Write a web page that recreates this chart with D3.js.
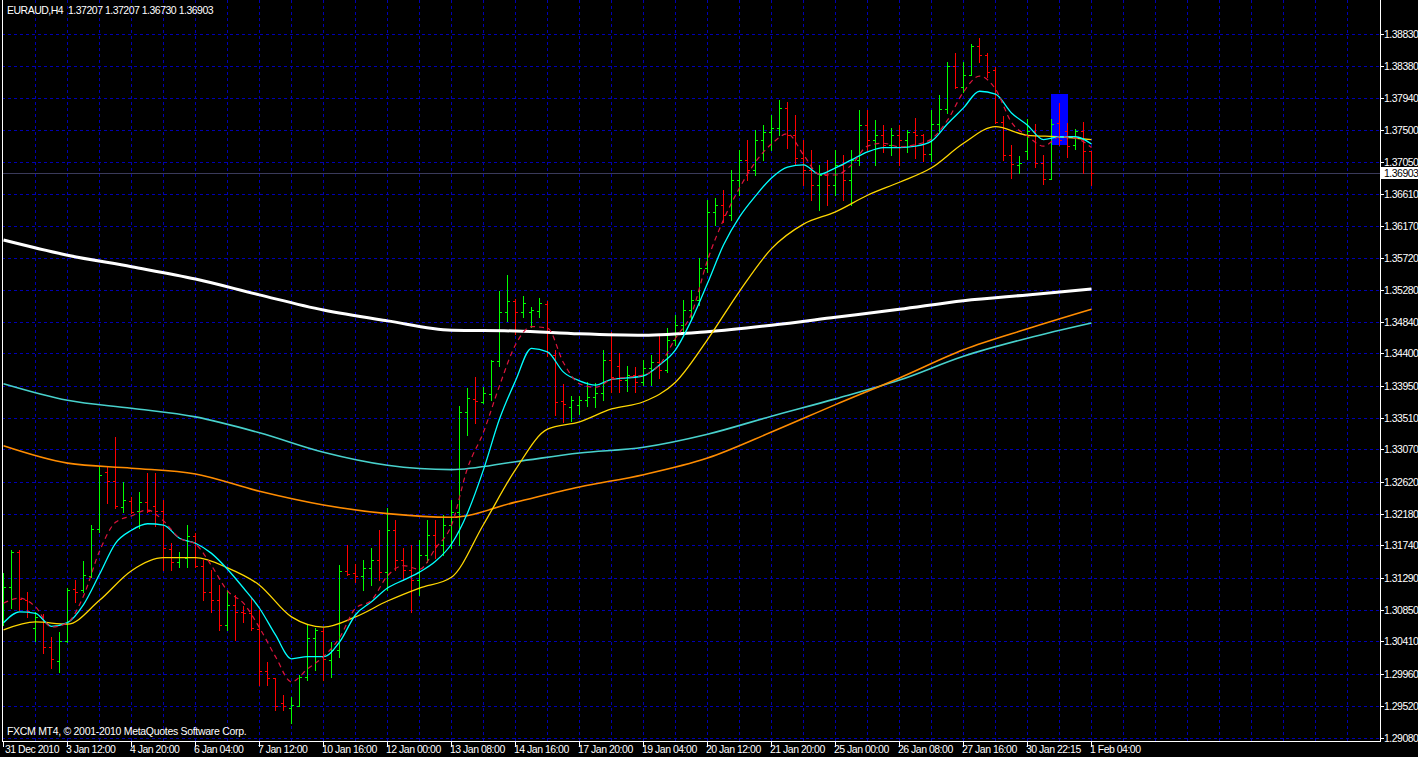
<!DOCTYPE html>
<html><head><meta charset="utf-8">
<script src="https://cdn.jsdelivr.net/npm/d3@7"></script>
<style>
html,body{margin:0;padding:0;background:#000;overflow:hidden}
svg{display:block}
text{font-family:"Liberation Sans",Arial,sans-serif;font-size:10.5px;fill:#fff;letter-spacing:-0.5px}
text.copy{letter-spacing:-0.3px}
</style></head><body>
<svg id="chart" width="1418" height="757"></svg>
<script>
// ---------- data ----------
const symbol = "EURAUD,H4";
const headerQuote = ["1.37207", "1.37207", "1.36730", "1.36903"];
const copyright = "FXCM MT4, \u00A9 2001-2010 MetaQuotes Software Corp.";
const bidPrice = 1.36903;
const priceTicks = ["1.38830","1.38380","1.37940","1.37500","1.37050","1.36610","1.36170","1.35720",
  "1.35280","1.34840","1.34400","1.33950","1.33510","1.33070","1.32620","1.32180","1.31740",
  "1.31290","1.30850","1.30410","1.29960","1.29520","1.29080"];
const timeLabels = ["31 Dec 2010","3 Jan 12:00","4 Jan 20:00","6 Jan 04:00","7 Jan 12:00","10 Jan 16:00",
  "12 Jan 00:00","13 Jan 08:00","14 Jan 16:00","17 Jan 20:00","19 Jan 04:00","20 Jan 12:00",
  "21 Jan 20:00","25 Jan 00:00","26 Jan 08:00","27 Jan 16:00","30 Jan 22:15","1 Feb 04:00"];
const barsPerLabel = 8;

const open = [1.3085,1.3116,1.3165,1.3098,1.3060,1.3074,1.3033,1.3014,1.3042,1.3114,1.3112,1.3132,1.3197,1.3276,1.3263,1.3227,1.3236,1.3222,1.3234,1.3229,
1.3222,1.3169,1.3151,1.3157,1.3187,1.3146,1.3110,1.3098,1.3064,1.3092,1.3082,1.3080,1.3058,1.3000,1.2990,1.2956,1.2949,1.2952,1.2992,1.3046,
1.3056,1.3015,1.3029,1.3139,1.3136,1.3132,1.3143,1.3154,1.3137,1.3195,1.3154,1.3140,1.3126,1.3161,1.3189,1.3175,1.3202,1.3220,1.3359,1.3377,
1.3373,1.3384,1.3429,1.3497,1.3513,1.3497,1.3497,1.3499,1.3508,1.3438,1.3374,1.3366,1.3369,1.3375,1.3380,1.3385,1.3431,1.3423,1.3403,1.3410,
1.3400,1.3420,1.3428,1.3417,1.3459,1.3479,1.3500,1.3514,1.3558,1.3636,1.3645,1.3632,1.3680,1.3708,1.3694,1.3736,1.3747,1.3752,1.3780,1.3742,
1.3711,1.3694,1.3673,1.3687,1.3673,1.3701,1.3680,1.3708,1.3756,1.3736,1.3742,1.3729,1.3742,1.3736,1.3747,1.3742,1.3716,1.3758,1.3778,1.3838,
1.3809,1.3826,1.3866,1.3853,1.3832,1.3760,1.3715,1.3701,1.3720,1.3748,1.3704,1.3682,1.3759,1.3748,1.3729,1.3748,1.37207];
const high = [1.3136,1.3168,1.3168,1.3110,1.3082,1.3079,1.3047,1.3054,1.3115,1.3126,1.3152,1.3202,1.3283,1.3283,1.3324,1.3262,1.3241,1.3248,1.3274,1.3274,
1.3237,1.3177,1.3165,1.3202,1.3191,1.3154,1.3140,1.3119,1.3112,1.3105,1.3090,1.3103,1.3085,1.3013,1.2990,1.2967,1.2964,1.2995,1.3064,1.3060,
1.3060,1.3040,1.3147,1.3175,1.3148,1.3154,1.3170,1.3195,1.3226,1.3209,1.3170,1.3175,1.3182,1.3209,1.3209,1.3216,1.3237,1.3367,1.3392,1.3407,
1.3393,1.3431,1.3526,1.3549,1.3515,1.3520,1.3504,1.3517,1.3513,1.3445,1.3398,1.3381,1.3381,1.3400,1.3399,1.3445,1.3470,1.3440,1.3423,1.3421,
1.3431,1.3438,1.3465,1.3475,1.3493,1.3514,1.3528,1.3572,1.3652,1.3655,1.3666,1.3694,1.3722,1.3736,1.3749,1.3756,1.3770,1.3791,1.3788,1.3770,
1.3736,1.3722,1.3701,1.3708,1.3722,1.3715,1.3722,1.3777,1.3777,1.3763,1.3756,1.3752,1.3756,1.3749,1.3766,1.3744,1.3777,1.3798,1.3843,1.3856,
1.3843,1.3868,1.3877,1.3856,1.3837,1.3769,1.3729,1.3713,1.3765,1.3758,1.3715,1.3765,1.3787,1.3759,1.3751,1.3760,1.37207];
const low = [1.3064,1.3087,1.3085,1.3075,1.3042,1.3025,1.3004,1.2999,1.3040,1.3096,1.3110,1.3130,1.3193,1.3233,1.3226,1.3220,1.3219,1.3198,1.3220,1.3201,
1.3140,1.3140,1.3144,1.3144,1.3144,1.3098,1.3082,1.3057,1.3057,1.3043,1.3068,1.3057,1.2981,1.2981,1.2946,1.2946,1.2928,1.2952,1.2988,1.3002,
1.2988,1.2992,1.3020,1.3133,1.3123,1.3112,1.3119,1.3126,1.3112,1.3140,1.3126,1.3082,1.3105,1.3151,1.3157,1.3161,1.3170,1.3175,1.3327,1.3344,
1.3371,1.3375,1.3423,1.3485,1.3467,1.3490,1.3477,1.3490,1.3436,1.3355,1.3345,1.3346,1.3356,1.3367,1.3366,1.3375,1.3387,1.3387,1.3388,1.3387,
1.3396,1.3396,1.3406,1.3414,1.3452,1.3465,1.3486,1.3507,1.3553,1.3618,1.3622,1.3625,1.3659,1.3680,1.3687,1.3708,1.3722,1.3742,1.3724,1.3701,
1.3673,1.3652,1.3639,1.3645,1.3659,1.3652,1.3645,1.3701,1.3722,1.3701,1.3719,1.3715,1.3701,1.3719,1.3711,1.3706,1.3706,1.3748,1.3773,1.3808,
1.3802,1.3826,1.3843,1.3823,1.3759,1.3708,1.3683,1.3690,1.3709,1.3698,1.3675,1.3682,1.3729,1.3712,1.3723,1.3690,1.36730];
const close = [1.3116,1.3165,1.3100,1.3083,1.3075,1.3033,1.3017,1.3042,1.3112,1.3110,1.3133,1.3197,1.3272,1.3263,1.3229,1.3237,1.3220,1.3234,1.3222,1.3222,
1.3170,1.3151,1.3158,1.3187,1.3146,1.3110,1.3098,1.3064,1.3092,1.3082,1.3080,1.3060,1.3000,1.2990,1.2952,1.2952,1.2953,1.2992,1.3046,1.3057,
1.3017,1.3029,1.3139,1.3134,1.3132,1.3143,1.3154,1.3137,1.3195,1.3154,1.3140,1.3126,1.3161,1.3189,1.3175,1.3202,1.3220,1.3359,1.3378,1.3374,
1.3385,1.3429,1.3497,1.3513,1.3497,1.3510,1.3500,1.3510,1.3442,1.3373,1.3370,1.3375,1.3375,1.3380,1.3385,1.3431,1.3407,1.3403,1.3410,1.3400,
1.3420,1.3428,1.3417,1.3459,1.3479,1.3500,1.3514,1.3558,1.3636,1.3645,1.3632,1.3680,1.3708,1.3694,1.3736,1.3747,1.3752,1.3780,1.3742,1.3711,
1.3694,1.3673,1.3687,1.3673,1.3701,1.3680,1.3708,1.3756,1.3736,1.3742,1.3729,1.3742,1.3736,1.3747,1.3742,1.3716,1.3758,1.3778,1.3838,1.3809,
1.3826,1.3866,1.3853,1.3830,1.3760,1.3715,1.3702,1.3704,1.3748,1.3704,1.3682,1.3758,1.3736,1.3727,1.3748,1.3720,1.36903];

const fastStep = 2;
const maCyanFast = [1.3067,1.3082,1.3080,1.3062,1.3067,1.3092,1.3134,1.3177,1.3195,1.3204,1.3202,1.3184,1.3177,1.3163,1.3141,1.3115,1.3087,1.3050,1.3017,1.3020,
1.3020,1.3040,1.3078,1.3096,1.3115,1.3126,1.3137,1.3152,1.3176,1.3219,1.3279,1.3349,1.3402,1.3447,1.3442,1.3414,1.3402,1.3396,1.3404,1.3406,
1.3409,1.3424,1.3445,1.3486,1.3537,1.3590,1.3629,1.3658,1.3683,1.3698,1.3701,1.3688,1.3697,1.3708,1.3719,1.3725,1.3725,1.3727,1.3734,1.3758,
1.3780,1.3803,1.3799,1.3773,1.3756,1.3736,1.3740,1.3740,1.3730];
const maRedDash = [1.3094,1.3101,1.3089,1.3061,1.3067,1.3104,1.3166,1.3206,1.3215,1.3223,1.3208,1.3184,1.3176,1.3146,1.3111,1.3094,1.3060,1.3020,1.2985,1.3003,
1.3020,1.3046,1.3087,1.3098,1.3132,1.3146,1.3141,1.3170,1.3202,1.3281,1.3331,1.3395,1.3452,1.3477,1.3475,1.3427,1.3398,1.3393,1.3404,1.3407,
1.3410,1.3424,1.3461,1.3495,1.3569,1.3625,1.3669,1.3705,1.3730,1.3744,1.3715,1.3688,1.3687,1.3701,1.3727,1.3731,1.3726,1.3729,1.3737,1.3763,
1.3802,1.3824,1.3806,1.3760,1.3741,1.3727,1.3740,1.3738,1.3725];
const midStep = 4;
const maYellow = [1.3057,1.3068,1.3065,1.3098,1.3139,1.3157,1.3157,1.3143,1.3119,1.3075,1.3061,1.3075,1.3097,1.3115,1.3130,1.3203,1.3279,1.3335,1.3345,1.3363,
1.3373,1.3400,1.3459,1.3526,1.3585,1.3619,1.3636,1.3659,1.3677,1.3697,1.3731,1.3754,1.3742,1.3740,1.3736];
const slowStep = 8;
const maWhite = [1.3597,1.3576,1.3560,1.3543,1.3521,1.3500,1.3485,1.3472,1.3471,1.3467,1.3465,1.3470,1.3479,1.3490,1.3501,1.3513,1.3521,1.3529];
const maCyanSlow = [1.3398,1.3375,1.3364,1.3352,1.3330,1.3303,1.3285,1.3279,1.3290,1.3302,1.3310,1.3328,1.3353,1.3377,1.3403,1.3436,1.3461,1.3482];
const maOrange = [1.3312,1.3288,1.3281,1.3273,1.3249,1.3230,1.3218,1.3213,1.3234,1.3255,1.3272,1.3295,1.3331,1.3369,1.3406,1.3445,1.3474,1.3501];

// rectangle object on the chart (bar indices and price range)
const boxBars = [131, 133];
const boxPrices = [1.3799, 1.3729];

// ---------- drawing ----------
const svg = d3.select("#chart");
const axisX = 1380, axisY = 741;
const nBars = close.length;
const x = d3.scaleLinear().domain([0, nBars - 1]).range([3, 3 + 8 * (nBars - 1)]);
const tickNums = priceTicks.map(Number);
const y = d3.scaleLinear().domain([d3.min(tickNums), d3.max(tickNums)]).range([737.5, 33.5]);
const px = v => Math.round(x(v)) + 0.5;
const py = v => Math.round(y(v)) + 0.5;

svg.append("rect").attr("width", 1418).attr("height", 757).attr("fill", "#000");
svg.append("defs").append("clipPath").attr("id", "plot")
  .append("rect").attr("x", 2).attr("y", 0).attr("width", axisX - 2).attr("height", axisY);

const plot = svg.append("g").attr("clip-path", "url(#plot)");
const gridColor = "#0000b4";

// horizontal grid
plot.append("g").selectAll("line").data(tickNums).join("line")
  .attr("x1", 2).attr("x2", axisX).attr("y1", d => py(d)).attr("y2", d => py(d))
  .attr("stroke", gridColor).attr("stroke-dasharray", "3,3").attr("shape-rendering", "crispEdges");
// vertical grid (every 4 bars)
const vIdx = d3.range(4, 176, 4).filter(i => x(i) < axisX - 1);
plot.append("g").selectAll("line").data(vIdx).join("line")
  .attr("x1", d => px(d)).attr("x2", d => px(d)).attr("y1", 0).attr("y2", axisY)
  .attr("stroke", gridColor).attr("stroke-dasharray", "3,3").attr("shape-rendering", "crispEdges");

// rectangle object
plot.append("rect")
  .attr("x", x(boxBars[0])).attr("width", x(boxBars[1]) - x(boxBars[0]) + 1)
  .attr("y", y(boxPrices[0])).attr("height", y(boxPrices[1]) - y(boxPrices[0]))
  .attr("fill", "#0000ff").attr("shape-rendering", "crispEdges");

// bid line
plot.append("line").attr("x1", 2).attr("x2", axisX).attr("y1", py(bidPrice)).attr("y2", py(bidPrice))
  .attr("stroke", "#3a3a5a").attr("shape-rendering", "crispEdges");

// OHLC bars
const bars = plot.append("g").attr("shape-rendering", "crispEdges");
const idx = d3.range(nBars);
const col = i => close[i] >= open[i] ? "#00ff00" : "#ff0000";
bars.selectAll("line.hl").data(idx).join("line").attr("class", "hl")
  .attr("x1", i => px(i)).attr("x2", i => px(i))
  .attr("y1", i => Math.round(y(high[i]))).attr("y2", i => Math.round(y(low[i])) + 1)
  .attr("stroke", col);
bars.selectAll("line.op").data(idx).join("line").attr("class", "op")
  .attr("x1", i => Math.round(x(i)) - 2).attr("x2", i => Math.round(x(i)))
  .attr("y1", i => py(open[i])).attr("y2", i => py(open[i])).attr("stroke", col);
bars.selectAll("line.cl").data(idx).join("line").attr("class", "cl")
  .attr("x1", i => Math.round(x(i)) + 1).attr("x2", i => Math.round(x(i)) + 3)
  .attr("y1", i => py(close[i])).attr("y2", i => py(close[i])).attr("stroke", col);

// moving averages
function maLine(values, step, color, width, dash) {
  const line = d3.line().x((d, i) => x(i * step) + 0.5).y(d => y(d)).curve(d3.curveMonotoneX);
  const p = plot.append("path").datum(values).attr("d", line)
    .attr("fill", "none").attr("stroke", color).attr("stroke-width", width);
  if (dash) p.attr("stroke-dasharray", dash);
}
maLine(maWhite, slowStep, "#ffffff", 3);
maLine(maCyanSlow, slowStep, "#48d1cc", 1.6);
maLine(maOrange, slowStep, "#ff8c00", 1.6);
maLine(maYellow, midStep, "#ffd700", 1.3);
maLine(maCyanFast, fastStep, "#00ffff", 1.3);
maLine(maRedDash, fastStep, "#dc143c", 1.2, "5,4");

// frame / axes
svg.append("line").attr("x1", 2.5).attr("x2", 2.5).attr("y1", 0).attr("y2", axisY)
  .attr("stroke", "#fff").attr("shape-rendering", "crispEdges");
svg.append("line").attr("x1", 2).attr("x2", axisX + 1).attr("y1", axisY + 0.5).attr("y2", axisY + 0.5)
  .attr("stroke", "#fff").attr("shape-rendering", "crispEdges");
svg.append("line").attr("x1", axisX + 0.5).attr("x2", axisX + 0.5).attr("y1", 0).attr("y2", axisY + 1)
  .attr("stroke", "#fff").attr("shape-rendering", "crispEdges");

// price axis
const pa = svg.append("g");
pa.selectAll("line").data(tickNums).join("line")
  .attr("x1", axisX + 1).attr("x2", axisX + 4).attr("y1", d => py(d)).attr("y2", d => py(d))
  .attr("stroke", "#fff").attr("shape-rendering", "crispEdges");
pa.selectAll("text").data(priceTicks).join("text")
  .attr("x", axisX + 4).attr("y", d => Math.round(y(+d)) + 4).text(d => d);

// bid price label
const by = Math.round(y(bidPrice));
svg.append("rect").attr("x", axisX + 1).attr("y", by - 6).attr("width", 1418 - axisX - 1).attr("height", 12)
  .attr("fill", "#fff");
svg.append("text").attr("x", axisX + 4).attr("y", by + 4).style("fill", "#000")
  .text(bidPrice.toFixed(5));

// time axis
const ta = svg.append("g");
const tIdx = timeLabels.map((d, k) => k * barsPerLabel);
ta.selectAll("line").data(tIdx).join("line")
  .attr("x1", d => px(d)).attr("x2", d => px(d)).attr("y1", axisY + 1).attr("y2", axisY + 6)
  .attr("stroke", "#fff").attr("shape-rendering", "crispEdges");
ta.selectAll("text").data(timeLabels).join("text")
  .attr("x", (d, k) => Math.max(5, Math.round(x(tIdx[k])) - 1)).attr("y", 753).text(d => d);

// header and copyright
svg.append("text").attr("x", 7).attr("y", 14).attr("xml:space", "preserve")
  .text(symbol + "  " + headerQuote.join(" "));
svg.append("text").attr("class", "copy").attr("x", 7).attr("y", 735).text(copyright);
</script>
</body></html>
